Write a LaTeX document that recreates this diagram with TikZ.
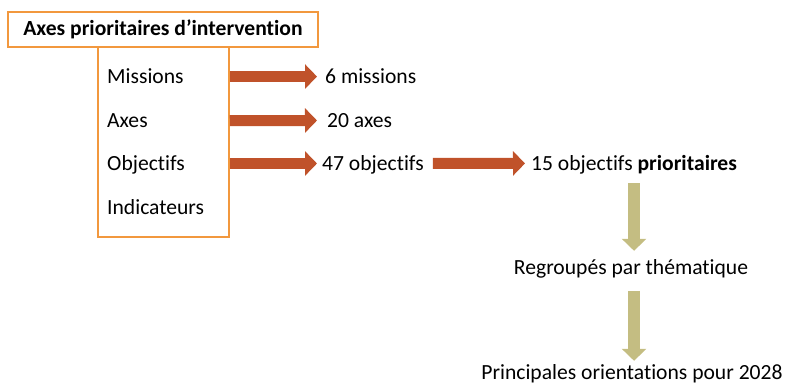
\documentclass[tikz,border=0pt]{standalone}
\usepackage{fontspec}
\setmainfont[Ligatures=NoCommon]{Carlito}
\usetikzlibrary{positioning,arrows.meta,calc}
\definecolor{boxorange}{RGB}{242,152,62}
\definecolor{arrowred}{RGB}{192,82,42}
\definecolor{arrowkhaki}{RGB}{196,189,130}
\tikzset{
  titlebox/.style={draw=boxorange, line width=1.5pt, fill=white, minimum width=310pt, minimum height=35pt, inner sep=0pt, font=\fontsize{21.6}{26}\selectfont\bfseries},
  listbox/.style={draw=boxorange, line width=1.5pt, fill=white, minimum width=131pt, minimum height=190pt, inner sep=0pt},
  itemtext/.style={anchor=base west, inner sep=0pt, text depth=0pt},
  centertext/.style={anchor=base, inner sep=0pt},
  redarrow/.style={-{Triangle[length=12pt,width=24pt]}, line width=11pt, arrowred},
  khakiarrow/.style={-{Triangle[length=12pt,width=24pt]}, line width=12pt, arrowkhaki}
}

\begin{document}
\begin{tikzpicture}[x=1pt, y=-1pt, every node/.style={font=\fontsize{21.6}{26}\selectfont}]
  \useasboundingbox (0,0) rectangle (788,387);
  % boxes
  \node[listbox] (lst) at (163.5,142) {};
  \node[titlebox] (ttl) at (163,29.5) {Axes prioritaires d’intervention};
  \node[itemtext] (mis) at (107,84) {Missions};
  \node[itemtext] (axe) at (107,127.5) {Axes};
  \node[itemtext] (obj) at (107,171) {Objectifs};
  \node[itemtext] (ind) at (107,214.5) {Indicateurs};
  % counts
  \node[itemtext] (nmis) at (325,84) {6 missions};
  \node[itemtext] (naxe) at (327,127.5) {20 axes};
  \node[itemtext] (nobj) at (322,171) {47 objectifs};
  \node[itemtext] (prio) at (531,171) {15 objectifs \textbf{prioritaires}};
  \node[centertext] (regr) at (631,275) {Regroupés par thématique};
  \node[centertext] (orie) at (632,380) {Principales orientations pour 2028};
  % arrows
  \draw[redarrow, shorten >=8pt] (mis.east -| lst.east) -- (nmis.west);
  \draw[redarrow, shorten >=10pt] (axe.east -| lst.east) -- (naxe.west);
  \draw[redarrow, shorten >=5pt] (obj.east -| lst.east) -- (nobj.west);
  \draw[redarrow, shorten <=9pt, shorten >=6pt] (nobj.east) -- (prio.west);
  \draw[khakiarrow, shorten <=12pt, shorten >=9pt] (prio.south) -- (prio.south |- regr.north);
  \draw[khakiarrow, shorten <=12pt, shorten >=4pt] (prio.south |- regr.south) -- (prio.south |- orie.north);
\end{tikzpicture}
\end{document}
